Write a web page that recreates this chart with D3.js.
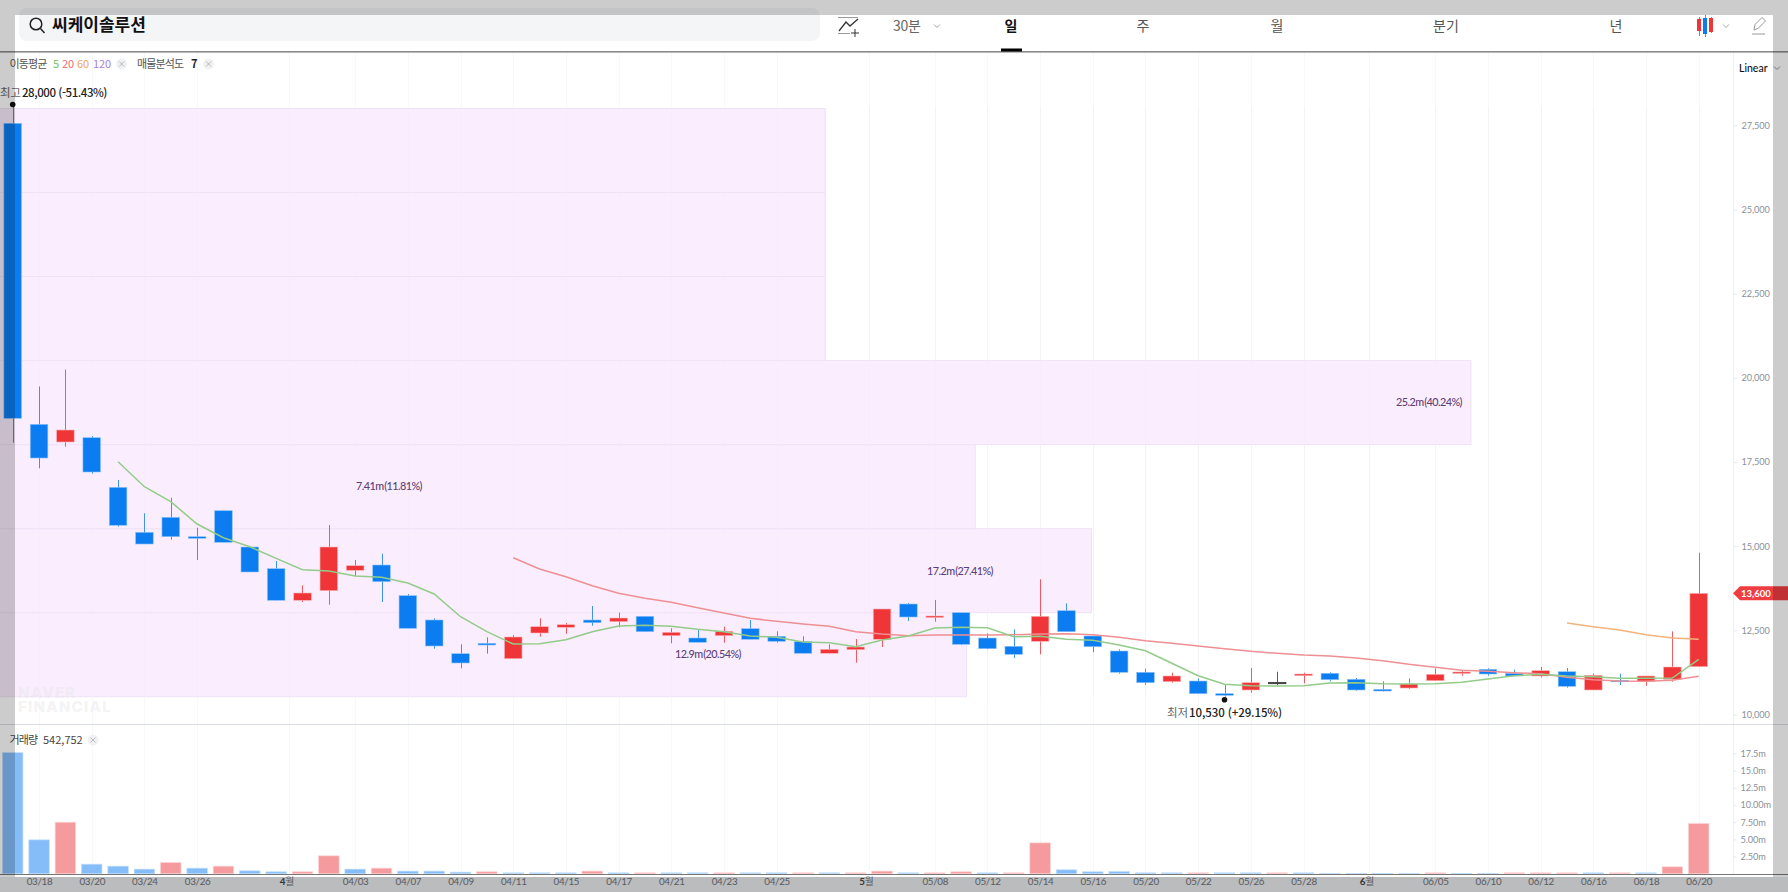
<!DOCTYPE html>
<html lang="ko">
<head>
<meta charset="utf-8">
<title>씨케이솔루션</title>
<script src="https://cdn.jsdelivr.net/npm/d3@7"></script>
<style>
    html, body { margin: 0; padding: 0; background: #fff; }
    svg { display: block; font-family: 'Noto Sans CJK KR', 'Noto Sans', sans-serif; }
    .num { font-family: Lato, 'Noto Sans', sans-serif; }
    .axis text { font-family: Lato, sans-serif; font-size: 9.2px; letter-spacing: -0.1px; fill: #8b909a; }
    .date-axis text { font-family: Lato, 'Noto Sans CJK KR', sans-serif; font-size: 9.8px; letter-spacing: -0.3px; fill: #6f7278; }
</style>
</head>
<body>
<div id="chart"></div>
<script>
const dates = ['03/17','03/18','03/19','03/20','03/21','03/24','03/25','03/26','03/27','03/28','03/31',
    '04/01','04/02','04/03','04/04','04/07','04/08','04/09','04/10','04/11','04/14','04/15','04/16','04/17','04/18',
    '04/21','04/22','04/23','04/24','04/25','04/28','04/29','04/30',
    '05/02','05/07','05/08','05/09','05/12','05/13','05/14','05/15','05/16','05/19','05/20','05/21','05/22','05/23',
    '05/26','05/27','05/28','05/29','05/30',
    '06/02','06/04','06/05','06/09','06/10','06/11','06/12','06/13','06/16','06/17','06/18','06/19','06/20'];

const opens = [27560,18620,18095,18222,16749,15413,15858,15282,16054,14976,14332,
    13393,13678,14284,14441,13530,12808,11807,12116,11659,12422,12591,12808,12758,12918,
    12342,12273,12342,12550,12324,12164,11819,11926,
    12235,13283,12888,13025,12273,12027,12175,13084,12333,11887,11255,10976,10996,10619,
    10729,10958,11154,11225,11047,
    10750,10788,11005,11225,11344,11225,11145,11272,10729,11017,10987,11047,11421];
const highs = [28000,19743,20248,18270,16966,15977,16440,15549,16054,14976,14560,
    13839,15629,14590,14777,13580,12858,12086,12294,12362,12858,12719,13224,13025,12918,
    12561,12511,12609,12808,12472,12324,12086,12244,
    13135,13313,13402,13025,12413,12532,14017,13304,12333,11938,11362,11243,11076,10886,
    11382,11272,11243,11255,11085,
    10987,11076,11373,11323,11373,11332,11412,11382,11213,11213,11145,12472,14807];
const lows = [18074,17313,17955,17153,15580,15065,15193,14590,15116,14234,13393,
    13340,13262,14115,13343,12561,11956,11373,11807,11659,12312,12401,12639,12591,12461,
    12116,12146,12134,12235,12134,11819,11819,11540,
    12006,12778,12758,12065,11938,11679,11789,12461,11849,11213,10886,10946,10619,10530,
    10649,10869,10928,10987,10708,
    10690,10759,11005,11154,11154,11145,11106,10797,10729,10877,10857,10976,11421];
const closes = [18798,17619,18451,17204,15621,15065,15282,15234,15116,14234,13393,
    13610,14976,14421,13946,12561,12036,11531,12065,12303,12609,12668,12728,12867,12461,
    12443,12146,12472,12235,12175,11819,11938,12006,
    13135,12897,12927,12086,11956,11789,12918,12461,12015,11255,10946,11145,10619,10572,
    10946,10958,11204,11035,10729,
    10699,10907,11195,11264,11204,11145,11302,10839,11166,10987,11145,11412,13600];

// volume in millions, volumeUp is the bar colour: 1 red, 0 blue
const volumes = [17.6,4.93,7.49,1.4,1.11,0.68,1.64,0.82,1.11,0.43,0.29,
    0.29,2.61,0.68,0.82,0.39,0.39,0.24,0.29,0.14,0.14,0.14,0.39,0.14,0.14,
    0.14,0.14,0.14,0.14,0.14,0.14,0.14,0.14,
    0.39,0.14,0.14,0.29,0.14,0.14,4.49,0.58,0.29,0.34,0.14,0.14,0.14,0.14,
    0.14,0.14,0.14,0.05,0.05,
    0.05,0.05,0.14,0.05,0.05,0.14,0.14,0.14,0.14,0.14,0.14,1.01,7.3];
const volumeUp = [0,0,1,0,0,0,1,0,1,0,0,
    1,1,0,1,0,0,0,1,0,0,0,1,0,1,
    0,0,1,0,0,1,0,1,
    1,0,1,1,0,1,1,0,0,0,0,0,1,0,
    0,1,0,0,0,
    0,0,1,0,0,1,1,1,0,1,0,1,1];

const ma5Start = 4;
const ma5 = [17510,16767,16322,15659,15252,14985,14640,14302,14263,14115,14076,13907,13580,12906,12461,12095,12104,
    12223,12461,12630,12651,12621,12532,12461,12333,12294,12155,12134,12015,12214,12333,12570,12591,12579,12312,
    12324,12235,12205,12065,11896,11522,11154,10898,10857,10848,10857,10937,10946,10916,10907,10916,10958,11056,
    11154,11195,11145,11124,11076,11076,11085,11641];
const ma20Start = 19;
const ma20 = [14658,14323,14094,13827,13601,13452,13334,13173,13016,12858,12769,12689,12621,12461,12392,12342,12362,
    12362,12362,12371,12392,12401,12371,12294,12193,12116,12036,11956,11878,11819,11768,11739,11679,11599,11492,
    11403,11314,11284,11243,11213,11106,11035,10996,10987,11017,11136];
const ma60Start = 59;
const ma60 = [12719,12609,12511,12371,12273,12235];

const priceTicks = [10000,12500,15000,17500,20000,22500,25000,27500];
const volumeTicks = [2.5,5,7.5,10,12.5,15,17.5];
const volumeTickLabels = ['2.50m','5.00m','7.50m','10.00m','12.5m','15.0m','17.5m'];

// date axis: position in candles, month starts sit between two candles
const dateTickIndex = [1,3,5,7,10.5,13,15,17,19,21,23,25,27,29,32.5,35,37,39,41,43,45,47,49,51.5,54,56,58,60,62,64];
const dateTickLabels = ['03/18','03/20','03/24','03/26','4월','04/03','04/07','04/09','04/11','04/15','04/17','04/21','04/23','04/25',
    '5월','05/08','05/12','05/14','05/16','05/20','05/22','05/26','05/28','6월','06/05','06/10','06/12','06/16','06/18','06/20'];

// volume profile, lowest row first. length is in % of the longest row
const profileRowCount = 7;
const profileLength = [65.7,74.2,66.3,100,56.1,56.1,56.1];
const profileLabels = ['12.9m (20.54%)','17.2m (27.41%)','7.41m (11.81%)','25.2m (40.24%)',null,null,null];

const priceHigh = 28000, priceLow = 10530, priceLast = 13600;

const width = 1788, height = 892;
const BLUE = '#0b7df0', RED = '#ef3538', BLACK = '#333';

const x = d3.scaleLinear().domain([0, dates.length - 1]).range([12.7, 1698.7]);
const y = d3.scaleLinear().domain([priceLow, priceHigh]).range([696.7, 108.5]);
const yVol = d3.scaleLinear().domain([0, 17.5]).range([873.8, 753.3]);
const xProfile = d3.scaleLinear().domain([0, 100]).range([0, 1471]);
const rowStep = (priceHigh - priceLow) / profileRowCount;

const svg = d3.select('#chart').append('svg')
    .attr('width', width).attr('height', height)
    .attr('viewBox', `0 0 ${width} ${height}`);

svg.append('rect').attr('width', width).attr('height', height).attr('fill', '#fff');

// GRID
svg.append('g').selectAll('line')
    .data(dateTickIndex)
    .join('line')
    .attr('x1', d => Math.round(x(d)) + 0.5).attr('x2', d => Math.round(x(d)) + 0.5)
    .attr('y1', 52).attr('y2', 874)
    .attr('stroke', '#f7f8f9');

// PROFILE BOXES
svg.append('g').selectAll('rect')
    .data(profileLength)
    .join('rect')
    .attr('x', -1)
    .attr('y', (d, i) => y(priceLow + rowStep * (i + 1)))
    .attr('width', d => xProfile(d) + 1)
    .attr('height', (d, i) => y(priceLow + rowStep * i) - y(priceLow + rowStep * (i + 1)))
    .attr('fill', '#faeefe')
    .attr('stroke', '#f1e1f6')
    .attr('stroke-width', 1);

// watermark
const mark = svg.append('g').attr('fill', '#e6e6ea').attr('fill-opacity', 0.45).attr('font-family', 'Inter, Lato, sans-serif')
    .attr('font-size', 15).attr('font-weight', 800).attr('letter-spacing', 1.2);
mark.append('text').attr('x', 18).attr('y', 698).text('NAVER');
mark.append('text').attr('x', 18).attr('y', 712).text('FINANCIAL');

// GRID over the boxes
svg.append('g').selectAll('line')
    .data(dateTickIndex)
    .join('line')
    .attr('x1', d => Math.round(x(d)) + 0.5).attr('x2', d => Math.round(x(d)) + 0.5)
    .attr('y1', 108).attr('y2', 697)
    .attr('stroke', '#f3eaf6')
    .attr('stroke-opacity', 0.5);

// VOLUME
const volBarWidth = 20.5;
svg.append('g').selectAll('rect')
    .data(volumes)
    .join('rect')
    .attr('x', (d, i) => x(i) - volBarWidth / 2)
    .attr('y', d => yVol(d))
    .attr('width', volBarWidth)
    .attr('height', d => yVol(0) - yVol(d))
    .attr('fill', (d, i) => volumeUp[i] ? '#f59a9d' : '#85bdf9')
    .attr('stroke', (d, i) => volumeUp[i] ? '#fbd3d4' : '#c4dffb')
    .attr('stroke-width', 0.7);

// CANDLES
const bodyWidth = 17.6;
const candleColor = i => closes[i] > opens[i] ? RED : closes[i] < opens[i] ? BLUE : BLACK;
const candles = svg.append('g').selectAll('g')
    .data(dates)
    .join('g');

candles.append('line')
    .attr('x1', (d, i) => Math.round(x(i)) + 0.5).attr('x2', (d, i) => Math.round(x(i)) + 0.5)
    .attr('y1', (d, i) => y(highs[i])).attr('y2', (d, i) => y(lows[i]))
    .attr('stroke', (d, i) => candleColor(i))
    .attr('stroke-opacity', 0.8);

candles.append('rect')
    .attr('x', (d, i) => x(i) - bodyWidth / 2)
    .attr('y', (d, i) => y(Math.max(opens[i], closes[i])))
    .attr('width', bodyWidth)
    .attr('height', (d, i) => Math.max(1.5, Math.abs(y(opens[i]) - y(closes[i]))))
    .attr('fill', (d, i) => candleColor(i))
    .attr('stroke', (d, i) => closes[i] > opens[i] ? '#f9b4b6' : closes[i] < opens[i] ? '#8cc2f9' : BLACK)
    .attr('stroke-width', 0.6);

// MOVING AVERAGES
const maLine = start => d3.line().x((d, i) => x(i + start)).y(d => y(d));
svg.append('path').attr('d', maLine(ma60Start)(ma60)).attr('fill', 'none').attr('stroke', '#f3b27c').attr('stroke-width', 1.5);
svg.append('path').attr('d', maLine(ma20Start)(ma20)).attr('fill', 'none').attr('stroke', '#ee8f92').attr('stroke-width', 1.5);
svg.append('path').attr('d', maLine(ma5Start)(ma5)).attr('fill', 'none').attr('stroke', '#93cb88').attr('stroke-width', 1.5);

// PROFILE LABELS
svg.append('g').selectAll('text')
    .data(profileLabels.map((t, i) => ({ t, i })).filter(d => d.t))
    .join('text')
    .attr('class', 'num')
    .attr('x', d => [708, 960, 389, 1429][d.i])
    .attr('y', d => [654, 571, 486, 402][d.i])
    .attr('dy', '0.35em')
    .attr('text-anchor', 'middle')
    .attr('font-size', 10.8)
    .attr('font-weight', 500)
    .attr('letter-spacing', -0.55)
    .attr('word-spacing', -1.5)
    .attr('fill', '#5c3f78')
    .text(d => d.t);

// HIGH / LOW MARKERS
const highIdx = highs.indexOf(priceHigh);
const lowIdx = lows.indexOf(priceLow);
svg.append('line')
    .attr('x1', Math.round(x(highIdx)) + 0.5).attr('x2', Math.round(x(highIdx)) + 0.5)
    .attr('y1', y(priceHigh) - 4).attr('y2', y(priceHigh))
    .attr('stroke', BLUE);
svg.append('circle').attr('cx', x(highIdx)).attr('cy', y(priceHigh) - 4).attr('r', 2.8).attr('fill', '#111');
svg.append('circle').attr('cx', x(lowIdx)).attr('cy', y(priceLow) + 3).attr('r', 2.8).attr('fill', '#111');

const highText = svg.append('text').attr('y', 93).attr('dy', '0.35em').attr('font-size', 11.5).attr('font-weight', 500).attr('fill', '#222').attr('letter-spacing', -0.45);
highText.append('tspan').attr('x', 0).attr('fill', '#666').attr('font-weight', 400).text('최고');
highText.append('tspan').attr('x', 22).text(`${d3.format(',')(priceHigh)} (-51.43%)`);

const lowText = svg.append('text').attr('y', 713).attr('dy', '0.35em').attr('font-size', 11.5).attr('font-weight', 500).attr('fill', '#222').attr('letter-spacing', -0.1);
lowText.append('tspan').attr('x', 1167).attr('fill', '#666').attr('font-weight', 400).text('최저');
lowText.append('tspan').attr('x', 1189).text(`${d3.format(',')(priceLow)} (+29.15%)`);

// PRICE AXIS
const priceAxis = d3.axisRight(y)
    .tickValues(priceTicks)
    .tickFormat(d3.format(','))
    .tickSize(4)
    .tickPadding(4);
const priceG = svg.append('g').attr('class', 'axis').attr('transform', 'translate(1733.5,0)').call(priceAxis);
priceG.select('.domain').remove();
priceG.selectAll('.tick line').attr('stroke', '#e6e8ec');
svg.append('line').attr('x1', 1733.5).attr('x2', 1733.5).attr('y1', 52).attr('y2', 874).attr('stroke', '#eef0f3');

// VOLUME AXIS
const volumeAxis = d3.axisRight(yVol)
    .tickValues(volumeTicks)
    .tickFormat((d, i) => volumeTickLabels[i])
    .tickSize(3)
    .tickPadding(4);
const volG = svg.append('g').attr('class', 'axis').attr('transform', 'translate(1733.5,0)').call(volumeAxis);
volG.select('.domain').remove();
volG.selectAll('.tick line').attr('stroke', '#e6e8ec');

// CURRENT PRICE FLAG
const yLast = y(priceLast);
svg.append('path')
    .attr('d', `M1733,${yLast} L1740,${yLast - 7} H1788 V${yLast + 7} H1740 Z`)
    .attr('fill', '#ef3e42');
svg.append('text')
    .attr('class', 'num')
    .attr('x', 1741).attr('y', yLast).attr('dy', '0.35em')
    .attr('font-size', 9.5).attr('font-weight', 700).attr('fill', '#fff')
    .text(d3.format(',')(priceLast));

// separators
svg.append('line').attr('x1', 0).attr('x2', width).attr('y1', 724.5).attr('y2', 724.5).attr('stroke', '#d9dbe3');
svg.append('rect').attr('x', 0).attr('y', 877).attr('width', width).attr('height', 15).attr('fill', '#e9ebee');
svg.append('line').attr('x1', 0).attr('x2', width).attr('y1', 874.5).attr('y2', 874.5).attr('stroke', '#777').attr('stroke-width', 1.2);

// DATE AXIS
const dateAxis = d3.axisBottom(x)
    .tickValues(dateTickIndex)
    .tickFormat((d, i) => dateTickLabels[i])
    .tickSize(0)
    .tickPadding(0);
const dateG = svg.append('g').attr('class', 'date-axis').attr('transform', 'translate(0,878.5)').call(dateAxis);
dateG.select('.domain').remove();
dateG.selectAll('.tick text').each(function (d, i) {
    const label = dateTickLabels[i];
    if (!label.endsWith('월')) return;
    const t = d3.select(this).text(null).attr('dx', '-3');
    t.append('tspan').attr('font-weight', 700).style('fill', '#444').text(label[0]);
    t.append('tspan').text(label.slice(1));
});

// LEGENDS
function closeBadge(cx, cy) {
    svg.append('circle').attr('cx', cx).attr('cy', cy).attr('r', 5.5).attr('fill', '#f0f1f2');
    svg.append('path')
        .attr('d', `M${cx - 2.5},${cy - 2.5} L${cx + 2.5},${cy + 2.5} M${cx + 2.5},${cy - 2.5} L${cx - 2.5},${cy + 2.5}`)
        .attr('stroke', '#b9bbbf').attr('fill', 'none');
}
const legend = svg.append('g').attr('font-size', 11);
legend.append('text').attr('x', 9.5).attr('y', 64).attr('dy', '0.35em').attr('fill', '#555').attr('letter-spacing', -0.85).text('이동평균');
[['5', 53, '#6fbf63'], ['20', 62, '#ee6a6d'], ['60', 77, '#f0a35e'], ['120', 93, '#a57fd6']].forEach(([t, px, c]) => {
    legend.append('text').attr('x', px).attr('y', 64).attr('dy', '0.35em').attr('fill', c).attr('letter-spacing', -0.1).text(t);
});
closeBadge(121.7, 64);
legend.append('text').attr('x', 137).attr('y', 64).attr('dy', '0.35em').attr('fill', '#555').attr('letter-spacing', -0.85).text('매물분석도');
legend.append('text').attr('x', 191).attr('y', 64).attr('dy', '0.35em').attr('fill', '#222').attr('font-weight', 700).text('7');
closeBadge(208.6, 64);
const volLegend = legend.append('text').attr('y', 740).attr('dy', '0.35em').attr('fill', '#444');
volLegend.append('tspan').attr('x', 9.5).attr('letter-spacing', -0.85).text('거래량');
volLegend.append('tspan').attr('x', 43).text('542,752');
closeBadge(93, 740);

// HEADER
svg.append('rect').attr('x', 19).attr('y', 8).attr('width', 801).attr('height', 33).attr('rx', 8).attr('fill', '#f3f5f7');
svg.append('circle').attr('cx', 36).attr('cy', 24).attr('r', 5.8).attr('fill', 'none').attr('stroke', '#222').attr('stroke-width', 1.5);
svg.append('line').attr('x1', 40.5).attr('y1', 28.5).attr('x2', 44.5).attr('y2', 33).attr('stroke', '#222').attr('stroke-width', 1.5);
svg.append('text').attr('x', 52).attr('y', 25).attr('dy', '0.35em').attr('font-size', 17).attr('font-weight', 700).attr('fill', '#111').text('씨케이솔루션');

svg.append('rect').attr('x', 0).attr('y', 51).attr('width', width).attr('height', 1.6).attr('fill', '#8a8a8a');

const tabs = [['일', 1011, 700, '#111'], ['주', 1143, 400, '#555'], ['월', 1277, 400, '#555'], ['분기', 1446, 400, '#555'], ['년', 1616, 400, '#555']];
tabs.forEach(([t, px, w, c]) => {
    svg.append('text').attr('x', px).attr('y', 26).attr('dy', '0.35em').attr('text-anchor', 'middle')
        .attr('font-size', 14).attr('font-weight', w).attr('fill', c).text(t);
});
svg.append('rect').attr('x', 1001).attr('y', 48.5).attr('width', 21).attr('height', 3).attr('fill', '#000');
svg.append('text').attr('x', 893).attr('y', 26).attr('dy', '0.35em').attr('font-size', 14).attr('fill', '#666').attr('letter-spacing', -0.3).text('30분');

function chevron(cx, cy, c) {
    svg.append('path').attr('d', `M${cx - 3},${cy - 1.5} L${cx},${cy + 1.5} L${cx + 3},${cy - 1.5}`)
        .attr('fill', 'none').attr('stroke', c).attr('stroke-width', 0.9);
}
chevron(937, 26, '#999');
chevron(1726, 26, '#999');
chevron(1777, 68, '#888');

// indicator icon
svg.append('path').attr('d', 'M838,17.5 H858 M838,33.5 H850').attr('stroke', '#999').attr('fill', 'none');
svg.append('path').attr('d', 'M839,31 L846,22 L850,26 L858,19').attr('stroke', '#333').attr('stroke-width', 1.3).attr('fill', 'none');
svg.append('path').attr('d', 'M855,29 V37 M851,33 H859').attr('stroke', '#333').attr('fill', 'none');

// candle type icon
svg.append('path').attr('d', 'M1699.5,17 V36 M1705.5,15 V37 M1711.5,17 V33').attr('stroke', '#888').attr('fill', 'none');
svg.append('rect').attr('x', 1697).attr('y', 19).attr('width', 4).attr('height', 12).attr('fill', RED);
svg.append('rect').attr('x', 1703).attr('y', 18).attr('width', 4).attr('height', 16).attr('fill', BLUE);
svg.append('rect').attr('x', 1709).attr('y', 18).attr('width', 4).attr('height', 14).attr('fill', RED);

// pencil icon
svg.append('path').attr('d', 'M1754,30 L1755,24.5 L1762,17.5 L1765.5,21 L1758.5,28 Z M1752,34 H1765')
    .attr('stroke', '#999').attr('fill', 'none');

svg.append('text').attr('class', 'num').attr('x', 1739).attr('y', 68).attr('dy', '0.35em')
    .attr('font-size', 10.5).attr('font-weight', 500).attr('fill', '#111').text('Linear');

// dimmed frame around the screenshot
svg.append('path')
    .attr('d', `M0,0 H${width} V${height} H0 Z M15,15 V877 H1773 V15 Z`)
    .attr('fill', '#000')
    .attr('fill-opacity', 0.2)
    .attr('fill-rule', 'evenodd');
</script>
</body>
</html>
